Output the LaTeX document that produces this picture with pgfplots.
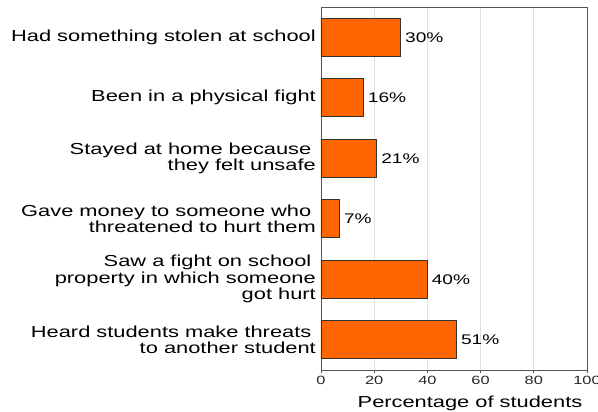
\documentclass[border=0pt]{standalone}
\usepackage{pgfplots}
\pgfplotsset{compat=1.18}
\usepackage{fontspec}
\setmainfont[FakeStretch=1.37]{Liberation Sans}
\definecolor{barorange}{HTML}{FF6600}
\definecolor{axgray}{HTML}{555555}
\begin{document}
\begin{tikzpicture}
\begin{axis}[
  name=ax,
  scale only axis,
  width=266bp, height=363bp,
  xbar, bar width=38bp,
  xmin=0, xmax=100,
  ymin=-0.5, ymax=5.5,
  y dir=reverse,
  xtick={0,20,40,60,80,100},
  ytick={0,1,2,3,4,5},
  yticklabels={
    {Had something stolen at school},
    {Been in a physical fight},
    {Stayed at home because\hspace*{0.28em}\\they felt unsafe},
    {Gave money to someone who\hspace*{0.28em}\\threatened to hurt them},
    {Saw a fight on school\hspace*{0.28em}\\property in which someone\hspace*{0.28em}\\got hurt},
    {Heard students make threats\hspace*{0.28em}\\to another student}},
  yticklabel style={align=right, font=\fontsize{16}{16.5}\selectfont, inner xsep=0pt, xshift=-2bp},
  ytick style={draw=none},
  xticklabel style={font=\fontsize{12}{12}\selectfont, text=black!85},
  /pgf/number format/assume math mode=true,
  tick align=outside,
  major tick length=3bp,
  x tick style={axgray, line width=0.8bp},
  xtick pos=bottom,
  xmajorgrids,
  grid style={gray!25, line width=0.8bp},
  axis line style={axgray, line width=0.8bp},
  xlabel={Percentage of students},
  xlabel style={font=\fontsize{16}{16}\selectfont, at={(axis description cs:0.5,0)}, anchor=base, yshift=-38bp, xshift=16bp},
  nodes near coords={\pgfmathprintnumber{\pgfplotspointmeta}\%},
  nodes near coords style={anchor=west, font=\fontsize{14}{14}\selectfont, inner xsep=4bp},
  point meta=x,
]
\addplot[fill=barorange, draw=black!80, line width=0.8bp] coordinates {
  (30,0) (16,1) (21,2) (7,3) (40,4) (51,5)
};
\end{axis}
\pgfresetboundingbox
\path[use as bounding box] ([xshift=-321bp,yshift=-42bp]ax.south west) rectangle ([xshift=11bp,yshift=7bp]ax.north east);
\end{tikzpicture}
\end{document}
